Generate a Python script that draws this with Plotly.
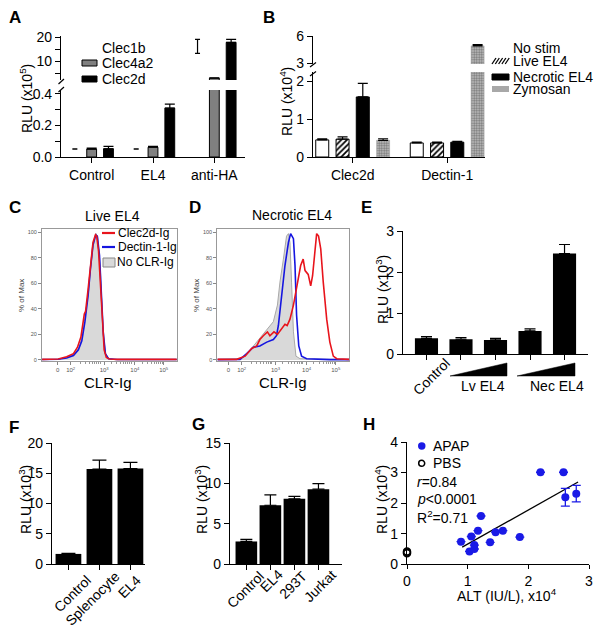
import numpy as np
import plotly.graph_objects as go

FONT = "Liberation Sans, Arial, sans-serif"
W, H = 600, 628

# ---------------- data ----------------
# A: NFAT reporter, RLU x10^5
a_groups = ["Control", "EL4", "anti-HA"]
a_clec1b = [0.05, 0.05, 13.3]
a_clec1b_err = [0.002, 0.002, 5.9]
a_clec4a2 = [0.05, 0.062, 2.9]
a_clec4a2_err = [0.006, 0.006, 0.1]
a_clec2d = [0.052, 0.31, 17.9]
a_clec2d_err = [0.015, 0.025, 1.3]

# B: RLU x10^4
b_groups = ["Clec2d", "Dectin-1"]
b_nostim = [0.45, 0.37]
b_nostim_err = [0.03, 0.02]
b_live = [0.47, 0.37]
b_live_err = [0.06, 0.02]
b_necrotic = [1.58, 0.39]
b_necrotic_err = [0.36, 0.02]
b_zymosan = [0.44, 4.9]
b_zymosan_err = [0.04, 0.15]

# C: live EL4 histograms (x in logicle decades, y in % of max)
c_gray_x = [1.08, 1.60, 1.87, 2.09, 2.25, 2.35, 2.46, 2.57, 2.65, 2.73, 2.82, 2.87, 2.95, 3.00, 3.05, 3.13, 3.22, 3.43, 5.42]
c_gray_y = [0.3, 0.5, 2, 4, 9, 16, 33, 52, 73, 90, 99, 96, 75, 50, 20, 5, 1, 0.3, 0.3]
c_blue_x = [1.08, 1.60, 1.87, 2.09, 2.25, 2.36, 2.46, 2.56, 2.64, 2.72, 2.81, 2.86, 2.93, 2.99, 3.05, 3.12, 3.22, 3.50, 5.42]
c_blue_y = [0.4, 0.6, 1.5, 3.5, 8, 15, 30, 50, 72, 90, 98, 97, 82, 55, 22, 5, 1, 0.4, 0.4]
c_red_x = [1.08, 1.60, 1.87, 2.09, 2.22, 2.33, 2.44, 2.48, 2.56, 2.64, 2.72, 2.80, 2.84, 2.90, 2.97, 3.03, 3.08, 3.15, 3.25, 3.50, 5.42]
c_red_y = [0.5, 0.8, 2.5, 5, 10, 18, 36, 38, 55, 76, 92, 98, 97, 85, 60, 30, 8, 2, 0.8, 0.5, 0.5]

# D: necrotic EL4 histograms
d_gray_x = [1.23, 1.42, 1.95, 2.11, 2.37, 2.64, 2.74, 2.90, 3.01, 3.14, 3.22, 3.33, 3.43, 3.49, 3.54, 3.59, 3.65, 3.73, 3.86, 5.40]
d_gray_y = [0.5, 0.5, 1, 3, 11, 19, 22, 27, 30, 43, 61, 79, 97, 99, 92, 61, 22, 3, 1, 0.3]
d_blue_x = [1.23, 1.95, 2.16, 2.37, 2.58, 2.80, 3.01, 3.11, 3.17, 3.27, 3.38, 3.49, 3.56, 3.65, 3.70, 3.75, 3.82, 3.91, 4.07, 4.81, 5.43]
d_blue_y = [0.3, 0.5, 5, 10, 11, 14, 16, 19, 27, 48, 74, 92, 99, 95, 74, 35, 11, 3, 1, 0.3, 0.3]
d_red_x = [1.23, 1.84, 2.11, 2.32, 2.48, 2.58, 2.69, 2.82, 2.90, 3.03, 3.14, 3.24, 3.38, 3.45, 3.54, 3.65, 3.73, 3.80, 3.88,
           3.96, 4.02, 4.12, 4.20, 4.26, 4.34, 4.39, 4.45, 4.52, 4.60, 4.71, 4.81, 4.92, 5.03, 5.43]
d_red_y = [0.5, 0.5, 3, 9, 11, 16, 19, 22, 19, 22, 20, 23, 28, 27, 32, 43, 53, 63, 74,
           79, 70, 67, 58, 66, 87, 99, 97, 87, 61, 32, 14, 3, 1, 0.5]
hist_tickvals = [1.58, 2, 3.08, 4.07, 5]
hist_ticktext = ["0", "10<sup>2</sup>", "10<sup>3</sup>", "10<sup>4</sup>", "10<sup>5</sup>"]

# E: RLU x10^3
e_vals = [0.39, 0.37, 0.35, 0.57, 2.46]
e_err = [0.04, 0.04, 0.04, 0.05, 0.22]

# F: RLU x10^3
f_labels = ["Control", "Splenocyte", "EL4"]
f_vals = [1.67, 15.7, 15.8]
f_err = [0.1, 1.5, 1.0]

# G: RLU x10^3
g_labels = ["Control", "EL4", "293T", "Jurkat"]
g_vals = [2.8, 7.3, 8.1, 9.3]
g_err = [0.25, 1.3, 0.3, 0.7]

# H: ALT x10^4 vs RLU x10^4
apap_x = [0.89, 1.03, 1.06, 1.11, 1.11, 1.17, 1.22, 1.37, 1.46, 1.58, 1.86, 2.20, 2.58, 2.61, 2.79]
apap_y = [0.74, 0.42, 0.91, 0.63, 0.50, 1.10, 1.58, 0.72, 1.05, 1.10, 0.89, 3.01, 3.01, 2.19, 2.31]
apap_err = [0, 0, 0, 0, 0, 0, 0, 0, 0, 0, 0, 0, 0, 0.29, 0.27]
pbs_x = [0, 0, 0]
pbs_y = [0.42, 0.36, 0.39]
fit_x = [0.91, 2.82]
fit_y = [0.56, 2.69]


def fx(x):
    return x / W


def fy(y):
    return 1 - y / H


fig = go.Figure()


def err(arr, w=4.5, color="black"):
    return dict(type="data", array=arr, arrayminus=[0] * len(arr), symmetric=False,
                color=color, thickness=1.2, width=w)


# ---- A bars (lower and upper segment) ----
a_series = [
    (a_clec1b, a_clec1b_err, "white", 0, -0.354, 2.5),
    (a_clec4a2, a_clec4a2_err, "#808080", 1, -0.08, 5),
    (a_clec2d, a_clec2d_err, "black", 1, 0.194, 5),
]
for vals, errs, color, lw, off, ew in a_series:
    for yax in ["y", "y2"]:
        fig.add_trace(go.Bar(
            x=a_groups, y=vals, width=0.16, offset=off,
            marker=dict(color=color, line=dict(color="black", width=lw)),
            error_y=err(errs, ew), xaxis="x", yaxis=yax, showlegend=False))

# ---- B bars ----
b_series = [
    (b_nostim, b_nostim_err, dict(color="white", line=dict(color="black", width=1)), -0.391),
    (b_live, b_live_err, dict(color="white", line=dict(color="black", width=1),
                             pattern=dict(shape="/", fgcolor="black", bgcolor="white", size=4, solidity=0.45)), -0.176),
    (b_necrotic, b_necrotic_err, dict(color="black", line=dict(color="black", width=1)), 0.038),
    (b_zymosan, b_zymosan_err, dict(color="#a8a8a8", line=dict(color="#a0a0a0", width=0.5),
                                    pattern=dict(shape=".", fgcolor="#777777", bgcolor="#c4c4c4", size=2.5, solidity=0.5)), 0.253),
]
for vals, errs, marker, off in b_series:
    for yax in ["y3", "y4"]:
        fig.add_trace(go.Bar(
            x=b_groups, y=vals, width=0.1376, offset=off, marker=marker,
            error_y=err(errs, 5), xaxis="x2", yaxis=yax, showlegend=False))

# ---- C / D histograms ----
for (gx, gy, bx, by, rx, ry, xa, ya) in [
    (c_gray_x, c_gray_y, c_blue_x, c_blue_y, c_red_x, c_red_y, "x3", "y5"),
    (d_gray_x, d_gray_y, d_blue_x, d_blue_y, d_red_x, d_red_y, "x4", "y6"),
]:
    fig.add_trace(go.Scatter(x=gx, y=gy, mode="lines", fill="tozeroy", fillcolor="#d9d9d9",
                             line=dict(color="#a8a8a8", width=1), xaxis=xa, yaxis=ya, showlegend=False))
    fig.add_trace(go.Scatter(x=bx, y=by, mode="lines", line=dict(color="#1515e0", width=1.6),
                             xaxis=xa, yaxis=ya, showlegend=False))
    fig.add_trace(go.Scatter(x=rx, y=ry, mode="lines", line=dict(color="#e8141c", width=1.6),
                             xaxis=xa, yaxis=ya, showlegend=False))

# ---- E ----
fig.add_trace(go.Bar(x=list(range(len(e_vals))), y=e_vals, width=0.67, offset=-0.335,
                     marker=dict(color="black"), error_y=err(e_err, 5.5),
                     xaxis="x5", yaxis="y7", showlegend=False))
# ---- F ----
fig.add_trace(go.Bar(x=list(range(len(f_vals))), y=f_vals, width=0.83, offset=-0.415,
                     marker=dict(color="black"), error_y=err(f_err, 7),
                     xaxis="x6", yaxis="y8", showlegend=False))
# ---- G ----
fig.add_trace(go.Bar(x=list(range(len(g_vals))), y=g_vals, width=0.9, offset=-0.45,
                     marker=dict(color="black"), error_y=err(g_err, 6),
                     xaxis="x7", yaxis="y9", showlegend=False))
# ---- H ----
fig.add_trace(go.Scatter(x=fit_x, y=fit_y, mode="lines", line=dict(color="black", width=1.3),
                         xaxis="x8", yaxis="y10", showlegend=False))
fig.add_trace(go.Scatter(x=apap_x, y=apap_y, mode="markers",
                         marker=dict(color="#1a1ae6", size=8),
                         error_y=dict(type="data", array=apap_err, color="#1a1ae6", thickness=1.3, width=4.5),
                         xaxis="x8", yaxis="y10", cliponaxis=False, showlegend=False))
fig.add_trace(go.Scatter(x=pbs_x, y=pbs_y, mode="markers",
                         marker=dict(color="rgba(0,0,0,0)", size=7, line=dict(color="black", width=1.5)),
                         xaxis="x8", yaxis="y10", cliponaxis=False, showlegend=False))


# ---------------- axes ----------------
def ax(dom, rng, anchor, fdom=fy, **kw):
    d = dict(domain=[fdom(dom[0]), fdom(dom[1])], range=rng, anchor=anchor, automargin=False,
             showline=True, linecolor="black", linewidth=1.2, ticks="outside",
             ticklen=5, tickwidth=1.2, tickcolor="black", showgrid=False, zeroline=False,
             tickfont=dict(size=14, color="black", family=FONT))
    d.update(kw)
    return d


def hax(dom, rng, anchor):
    return dict(domain=[fx(dom[0]), fx(dom[1])], range=rng, anchor=anchor, automargin=False,
                showline=True, mirror=True, linecolor="#999999", linewidth=1,
                ticks="outside", ticklen=3, tickwidth=0.8, tickcolor="#888888",
                tickvals=hist_tickvals, ticktext=hist_ticktext,
                minor=dict(tickvals=[d + np.log10(k) for d in (2, 3, 4) for k in range(2, 10)],
                           ticks="outside", ticklen=2, tickcolor="#999999"),
                showgrid=False, zeroline=False, tickfont=dict(size=6, color="#555555", family=FONT))


def hyax(anchor):
    return dict(domain=[fy(361), fy(229)], range=[-0.8, 102.6], anchor=anchor, automargin=False,
                showline=True, mirror=True, linecolor="#999999", linewidth=1,
                ticks="outside", ticklen=3, tickwidth=0.8, tickcolor="#888888",
                tickvals=[0, 20, 40, 60, 80, 100], showgrid=False, zeroline=False,
                tickfont=dict(size=5.5, color="#555555", family=FONT))


layout_axes = dict(
    xaxis=ax([61, 245], [-0.5, 2.5], "y", fdom=fx, type="category"),
    yaxis=ax([157, 90], [0, 0.425], "x", tickvals=[0, 0.1, 0.2, 0.3, 0.4],
             ticktext=["0.0", "", "0.2", "", "0.4"]),
    yaxis2=ax([80, 36], [2.1, 20.6], "x", tickvals=[5, 10, 15, 20], ticktext=["", "10", "", "20"]),
    xaxis2=ax([313, 485], [-0.42, 1.40], "y3", fdom=fx, type="category"),
    yaxis3=ax([157, 72], [0, 2.237], "x2", tickvals=[0, 1, 2]),
    yaxis4=ax([64, 36], [2.89, 6.0], "x2", tickvals=[3, 6]),
    xaxis3=hax([42, 177], [1.075, 5.43], "y5"),
    yaxis5=hyax("x3"),
    xaxis4=hax([217.3, 349.3], [1.224, 5.43], "y6"),
    yaxis6=hyax("x4"),
    xaxis5=ax([403, 588], [-0.68, 4.68], "y7", fdom=fx, tickvals=list(range(5)), ticktext=[""] * 5),
    yaxis7=ax([354.3, 231], [0, 3.01], "x5", tickvals=[0, 1, 2, 3]),
    xaxis6=ax([52, 145], [-0.53, 2.47], "y8", fdom=fx, tickvals=list(range(3)), ticktext=[""] * 3),
    yaxis8=ax([564, 442.5], [0, 20.1], "x6", tickvals=[0, 5, 10, 15, 20]),
    xaxis7=ax([230, 342], [-0.68, 3.98], "y9", fdom=fx, tickvals=list(range(4)), ticktext=[""] * 4),
    yaxis9=ax([564, 442.5], [0, 15.1], "x7", tickvals=[0, 5, 10, 15]),
    xaxis8=ax([407, 589], [0, 3], "y10", fdom=fx, tickvals=[0, 1, 2, 3], ticklen=4),
    yaxis10=ax([564.3, 442], [0, 4.0], "x8", tickvals=[0, 1, 2, 3, 4]),
)

# ---------------- text ----------------
annotations = []


def txt(x, y, s, size=13.5, angle=0, anchor="center", color="black"):
    annotations.append(dict(x=fx(x), y=fy(y), xref="paper", yref="paper", text=s,
                            showarrow=False, textangle=angle, xanchor=anchor, yanchor="middle",
                            font=dict(size=size, color=color, family=FONT)))


for lab, x, y in [("A", 15, 17), ("B", 269, 17), ("C", 15, 208), ("D", 195, 208),
                  ("E", 366, 208), ("F", 14, 427), ("G", 198, 424), ("H", 369, 424)]:
    txt(x, y, "<b>%s</b>" % lab, size=17)

txt(26, 99, "RLU (x10<sup>5</sup>)", angle=-90, size=14)
txt(286, 102, "RLU (x10<sup>4</sup>)", angle=-90, size=14)
txt(382, 290, "RLU (x10<sup>3</sup>)", angle=-90, size=14)
txt(25, 500, "RLU (x10<sup>3</sup>)", angle=-90, size=14)
txt(201, 500, "RLU (x10<sup>3</sup>)", angle=-90, size=14)
txt(381, 500, "RLU (x10<sup>4</sup>)", angle=-90, size=14)
txt(507, 595, "ALT (IU/L), x10<sup>4</sup>", size=14)

# A legend
txt(100, 48, "Clec1b", size=14, anchor="left")
txt(100, 63, "Clec4a2", size=14, anchor="left")
txt(100, 79, "Clec2d", size=14, anchor="left")
# B legend
txt(511, 48, "No stim", size=14, anchor="left")
txt(511, 61, "Live EL4", size=14, anchor="left")
txt(511, 77, "Necrotic EL4", size=14, anchor="left")
txt(511, 89, "Zymosan", size=14, anchor="left")

# C / D
txt(112, 216, "Live EL4", size=14)
txt(292, 215, "Necrotic EL4", size=14)
txt(21, 296, "% of Max", size=8, angle=-90, color="#444444")
txt(196, 296, "% of Max", size=8, angle=-90, color="#444444")
txt(108, 382, "CLR-Ig", size=15)
txt(283, 382, "CLR-Ig", size=15)
txt(116, 233, "Clec2d-Ig", size=12, anchor="left")
txt(116, 247, "Dectin-1-Ig", size=12, anchor="left")
txt(115, 262, "No CLR-Ig", size=12, anchor="left")

# E
txt(431, 377, "Control", angle=-45, size=14)
txt(483, 386, "Lv EL4", size=14)
txt(557, 386, "Nec EL4", size=14)

# F / G rotated labels
for s, x, y in zip(f_labels, [72, 92, 129], [594, 599, 587]):
    txt(x, y, s, angle=-45, size=14)
for s, x, y in zip(g_labels, [245, 271, 293, 320], [590, 581, 585, 586]):
    txt(x, y, s, angle=-45, size=14)

# H legend / stats
txt(431, 446, "APAP", size=14, anchor="left")
txt(431, 463, "PBS", size=14, anchor="left")
txt(415, 482, "<i>r</i>=0.84", size=14, anchor="left")
txt(415, 499, "<i>p</i><0.0001", size=14, anchor="left")
txt(415, 517, "R<sup>2</sup>=0.71", size=14, anchor="left")

# ---------------- shapes (legend keys, axis breaks, wedges) ----------------
shapes = []


def rect(x0, y0, x1, y1, fill, line="black", lw=1):
    shapes.append(dict(type="rect", xref="paper", yref="paper", x0=fx(x0), x1=fx(x1),
                       y0=fy(y0), y1=fy(y1), fillcolor=fill, line=dict(color=line, width=lw)))


def seg(x0, y0, x1, y1, color="black", lw=1.2):
    shapes.append(dict(type="line", xref="paper", yref="paper", x0=fx(x0), x1=fx(x1),
                       y0=fy(y0), y1=fy(y1), line=dict(color=color, width=lw)))


def poly(pts, fill):
    p = "M " + " L ".join("%f,%f" % (fx(a), fy(b)) for a, b in pts) + " Z"
    shapes.append(dict(type="path", xref="paper", yref="paper", path=p, fillcolor=fill,
                       line=dict(color=fill, width=0.5)))


rect(82, 60, 97, 66, "#808080")
rect(82, 76, 97, 82, "black")
for i in range(5):
    seg(492 + 3.3 * i, 64, 496 + 3.3 * i, 58, lw=1.3)
rect(492, 74, 509, 80, "black")
rect(492, 86, 509, 92, "#a8a8a8", line="#a8a8a8", lw=0)

seg(102, 233, 115, 233, "#e8141c", 2.2)
seg(102, 247, 115, 247, "#1515e0", 2.2)
rect(103, 258, 115, 267, "#d9d9d9", line="#888888", lw=1)

shapes.append(dict(type="circle", xref="paper", yref="paper", x0=fx(418), x1=fx(425.5),
                   y0=fy(449.7), y1=fy(442.3), fillcolor="#1a1ae6", line=dict(color="#1a1ae6", width=0)))
shapes.append(dict(type="circle", xref="paper", yref="paper", x0=fx(418.7), x1=fx(424.7),
                   y0=fy(466.3), y1=fy(460.3), fillcolor="white", line=dict(color="black", width=1.5)))

# axis break marks
seg(58.5, 84, 64, 79)
seg(58.5, 92, 64, 87)
seg(310, 67, 316, 62.5)
seg(310, 76, 316, 71.5)

# E wedges
poly([(450, 376), (507, 363), (507, 376)], "black")
poly([(517, 376), (575, 363), (575, 376)], "black")

fig.update_layout(
    template="none",
    width=W, height=H, margin=dict(l=0, r=0, t=0, b=0, pad=0, autoexpand=False),
    paper_bgcolor="white", plot_bgcolor="white",
    barmode="overlay", showlegend=False,
    font=dict(family=FONT, size=13.5, color="black"),
    annotations=annotations, shapes=shapes,
    **layout_axes
)

# drop the default page margin so the figure sits at the window origin
fig.write_html("out.html", config={"displayModeBar": False},
               post_script="document.body.style.margin='0';document.body.style.overflow='hidden';")
